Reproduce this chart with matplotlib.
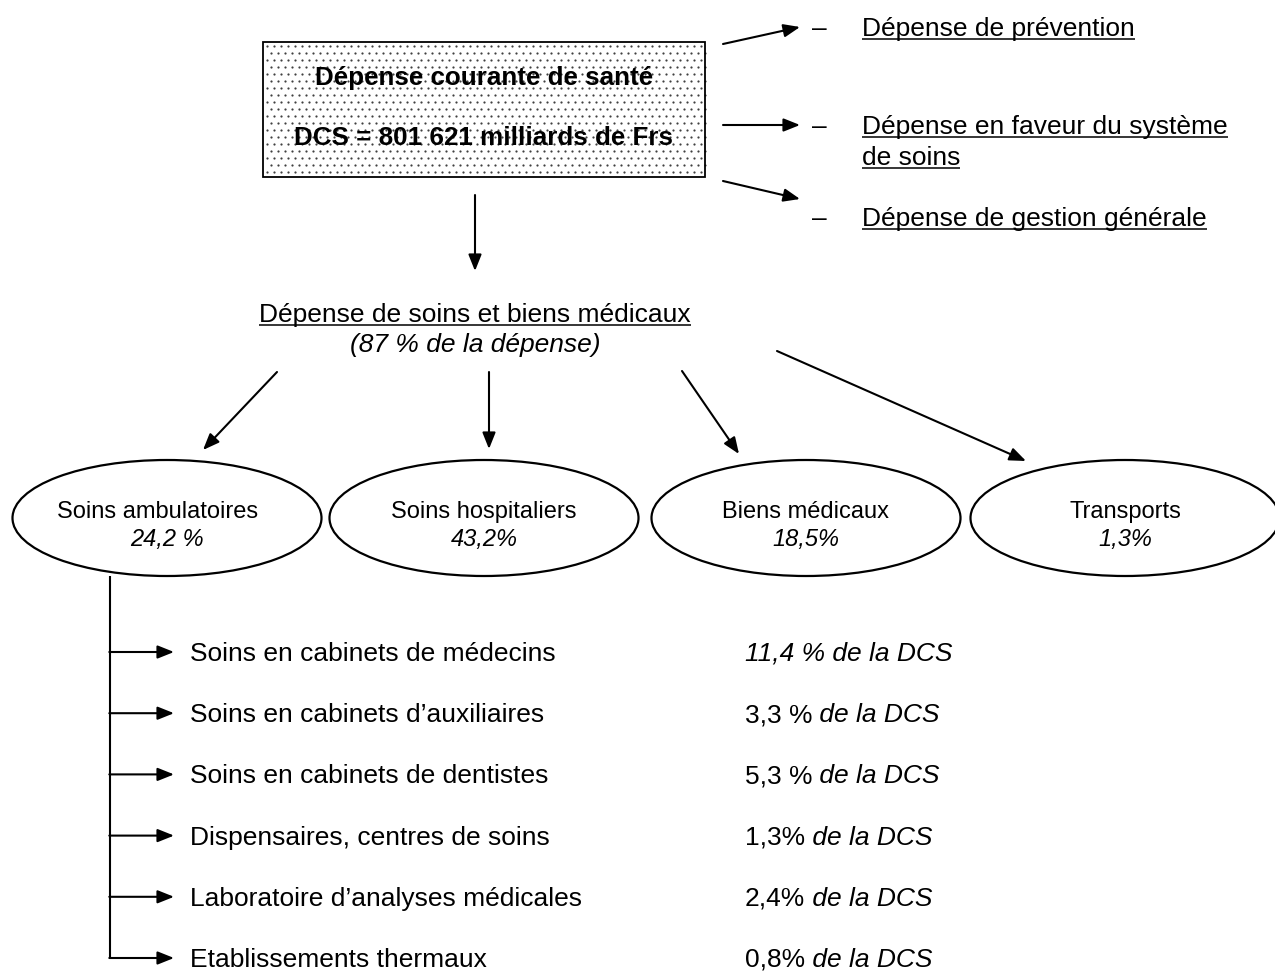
import matplotlib
matplotlib.use("Agg")
import matplotlib.pyplot as plt
from matplotlib.patches import Ellipse, Rectangle
import numpy as np

plt.rcParams["font.family"] = ["Liberation Sans", "DejaVu Sans"]

# --- content -------------------------------------------------------------
total_title = "Dépense courante de santé"
total_value = "DCS = 801 621 milliards de Frs"

side_items = [
    ["Dépense de prévention"],
    ["Dépense en faveur du système", "de soins"],
    ["Dépense de gestion générale"],
]

care_title = "Dépense de soins et biens médicaux"
care_share = "(87 % de la dépense)"

categories = ["Soins ambulatoires", "Soins hospitaliers", "Biens médicaux", "Transports"]
category_shares = ["24,2 %", "43,2%", "18,5%", "1,3%"]

sub_items = [
    "Soins en cabinets de médecins",
    "Soins en cabinets d’auxiliaires",
    "Soins en cabinets de dentistes",
    "Dispensaires, centres de soins",
    "Laboratoire d’analyses médicales",
    "Etablissements thermaux",
]
sub_values = ["11,4 %", "3,3 %", "5,3 %", "1,3%", "2,4%", "0,8%"]
sub_value_italic = [True, False, False, False, False, False]
sub_suffix = " de la DCS"

# --- layout (pixels) -----------------------------------------------------
W, H = 1275, 971
FS = 19
FS_ELL = 17

fig = plt.figure(figsize=(W / 100, H / 100), dpi=100)
ax = fig.add_axes([0, 0, 1, 1])
ax.set_xlim(0, W)
ax.set_ylim(H, 0)
ax.axis("off")
renderer = fig.canvas.get_renderer()


def arrow(start, end):
    ax.annotate("", xy=end, xytext=start,
                arrowprops=dict(arrowstyle="-|>,head_length=0.55,head_width=0.22",
                                mutation_scale=18, lw=1.5, color="black",
                                shrinkA=0, shrinkB=0))


def text_right_edge(t):
    bb = t.get_window_extent(renderer)
    return ax.transData.inverted().transform((bb.x1, bb.y0))[0]


def underlined(x, y, s, ha="left", **kw):
    t = ax.text(x, y, s, ha=ha, va="baseline", fontsize=FS, **kw)
    bb = t.get_window_extent(renderer)
    inv = ax.transData.inverted()
    x0 = inv.transform((bb.x0, bb.y0))[0]
    x1 = inv.transform((bb.x1, bb.y0))[0]
    ax.plot([x0, x1], [y + 3, y + 3], color="black", lw=1.1, solid_capstyle="butt")
    return t


# top box with dotted fill
bx, by, bw, bh = 263, 42, 442, 135
gx, gy = np.meshgrid(np.arange(bx + 4, bx + bw - 2, 7.0), np.arange(by + 4, by + bh - 2, 7.0))
gx[1::2] += 3.5
ax.plot(gx.ravel(), gy.ravel(), "o", ms=1.6, mew=0, color="0.25", zorder=1)
ax.add_patch(Rectangle((bx, by), bw, bh, fill=False, lw=1.3, ec="black", zorder=2))
ax.text(bx + bw / 2, 85, total_title, ha="center", va="baseline",
        fontsize=18.7, fontweight="bold", zorder=3)
ax.text(bx + bw / 2, 145, total_value, ha="center", va="baseline",
        fontsize=18.7, fontweight="bold", zorder=3)

# side arrows and labels
side_arrows = [((723, 44), (800, 27)), ((723, 125), (800, 125)), ((723, 181), (800, 199))]
side_base = [[36], [134, 165], [226]]
for (s, e), lines, ys in zip(side_arrows, side_items, side_base):
    arrow(s, e)
    ax.text(812, ys[0], "–", ha="left", va="baseline", fontsize=FS)
    for line, y in zip(lines, ys):
        underlined(862, y, line)

# down to medical care spending
arrow((475, 195), (475, 271))
underlined(475, 322, care_title, ha="center")
ax.text(475, 352, care_share, ha="center", va="baseline", fontsize=FS, style="italic")

# arrows to the four categories
care_arrows = [((277, 372), (203, 450)), ((489, 372), (489, 449)),
               ((682, 371), (739, 454)), ((777, 351), (1026, 461))]
for s, e in care_arrows:
    arrow(s, e)

ell_x = [167, 484, 806, 1125]
label_dx = [-9, 0, 0, 0]
ell_y, ell_w, ell_h = 518, 309, 116
for cx, dx, name, share in zip(ell_x, label_dx, categories, category_shares):
    ax.add_patch(Ellipse((cx, ell_y), ell_w, ell_h, fill=False, lw=1.6, ec="black"))
    ax.text(cx + dx, 518, name, ha="center", va="baseline", fontsize=FS_ELL)
    ax.text(cx, 546, share, ha="center", va="baseline", fontsize=FS_ELL, style="italic")

# breakdown of ambulatory care
tree_x = 110
row0, row_step = 652, 61.2
rows = [row0 + i * row_step for i in range(len(sub_items))]
ax.plot([tree_x, tree_x], [ell_y + ell_h / 2, rows[-1]], color="black", lw=1.5,
        solid_capstyle="butt")
for y, item, val, ital in zip(rows, sub_items, sub_values, sub_value_italic):
    arrow((tree_x - 0.7, y), (174, y))
    ax.text(190, y + 9, item, ha="left", va="baseline", fontsize=FS)
    t = ax.text(745, y + 9, val, ha="left", va="baseline", fontsize=FS,
                style="italic" if ital else "normal")
    ax.text(text_right_edge(t), y + 9, sub_suffix, ha="left", va="baseline",
            fontsize=FS, style="italic")

fig.savefig("out.png", dpi=100, facecolor="white")
